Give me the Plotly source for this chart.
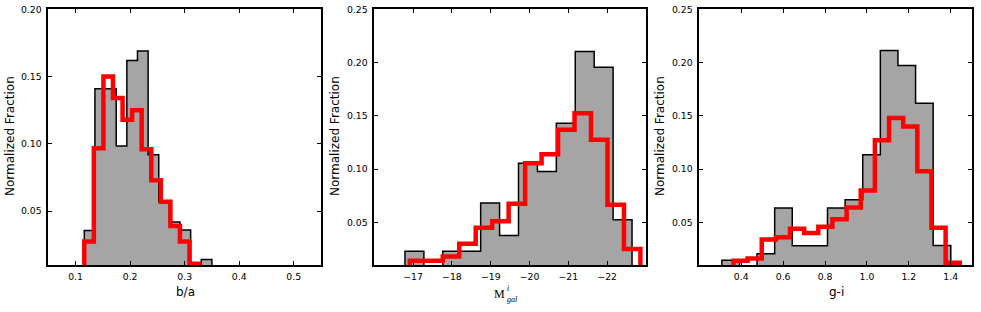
import plotly.graph_objects as go

# ---------------- data ----------------
# Panel 1: b/a
ba_gray_edges = [0.116, 0.1355, 0.155, 0.1745, 0.194, 0.2135, 0.233, 0.2525, 0.272, 0.2915, 0.311, 0.3305, 0.350]
ba_gray_vals = [0.0356, 0.141, 0.141, 0.0985, 0.162, 0.169, 0.092, 0.057, 0.042, 0.036, 0.0, 0.014]
ba_red_edges = [0.116, 0.1335, 0.1511, 0.1686, 0.1862, 0.2037, 0.2212, 0.2388, 0.2563, 0.2739, 0.2914, 0.3089, 0.3265]
ba_red_vals = [0.0275, 0.0968, 0.150, 0.134, 0.118, 0.125, 0.096, 0.073, 0.057, 0.039, 0.0275, 0.011]

# Panel 2: M^i_gal
mag_gray_edges = [-16.79, -17.2775, -17.765, -18.2525, -18.74, -19.2275, -19.715, -20.2025, -20.69, -21.1775, -21.665, -22.1525, -22.64]
mag_gray_vals = [0.0228, 0.0, 0.0228, 0.0228, 0.0681, 0.0378, 0.1056, 0.0978, 0.143, 0.2103, 0.1956, 0.0525]
mag_red_edges = [-16.915, -17.339, -17.764, -18.188, -18.613, -19.037, -19.461, -19.886, -20.310, -20.735, -21.159, -21.583, -22.008, -22.432, -22.856]
mag_red_vals = [0.014, 0.014, 0.018, 0.030, 0.045, 0.051, 0.0675, 0.1056, 0.114, 0.137, 0.1525, 0.1275, 0.0666, 0.025]

# Panel 3: g-i
gi_gray_edges = [0.3075, 0.3916, 0.4756, 0.5597, 0.6437, 0.7278, 0.8118, 0.8959, 0.9799, 1.064, 1.148, 1.2321, 1.3161, 1.4002]
gi_gray_vals = [0.0144, 0.0, 0.0206, 0.0634, 0.0281, 0.0281, 0.0634, 0.0712, 0.1134, 0.2113, 0.1972, 0.1619, 0.0284]
gi_red_edges = [0.363, 0.4305, 0.498, 0.5655, 0.633, 0.7005, 0.768, 0.8355, 0.903, 0.9705, 1.038, 1.1055, 1.173, 1.2405, 1.308, 1.3755, 1.443]
gi_red_vals = [0.014, 0.016, 0.034, 0.036, 0.044, 0.040, 0.046, 0.053, 0.064, 0.080, 0.127, 0.148, 0.140, 0.098, 0.045, 0.012]

ba_ticks = [0.1, 0.2, 0.3, 0.4, 0.5]
mag_ticks = [-17, -18, -19, -20, -21, -22]
mag_ticktext = ["\u221217", "\u221218", "\u221219", "\u221220", "\u221221", "\u221222"]
gi_ticks = [0.4, 0.6, 0.8, 1.0, 1.2, 1.4]
y1_ticks = [0.05, 0.10, 0.15, 0.20]
y23_ticks = [0.05, 0.10, 0.15, 0.20, 0.25]

# ---------------- helpers ----------------
W, H = 981, 312


def step_xy(edges, vals):
    xs = [edges[0]]
    ys = [0.0]
    for i, v in enumerate(vals):
        xs += [edges[i], edges[i + 1]]
        ys += [v, v]
    xs.append(edges[-1])
    ys.append(0.0)
    return xs, ys


GRAY = "#a5a5a5"
RED = "#ff0000"
FONT = "DejaVu Sans"

fig = go.Figure()

panels = [
    ("x", "y", ba_gray_edges, ba_gray_vals, ba_red_edges, ba_red_vals),
    ("x2", "y2", mag_gray_edges, mag_gray_vals, mag_red_edges, mag_red_vals),
    ("x3", "y3", gi_gray_edges, gi_gray_vals, gi_red_edges, gi_red_vals),
]
for xa, ya, ge, gv, re_, rv in panels:
    gx, gy = step_xy(ge, gv)
    fig.add_trace(go.Scatter(x=gx, y=gy, xaxis=xa, yaxis=ya, mode="lines",
                             fill="toself", fillcolor=GRAY,
                             line=dict(color="black", width=1.5),
                             hoverinfo="skip", showlegend=False))
    rx, ry = step_xy(re_, rv)
    fig.add_trace(go.Scatter(x=rx, y=ry, xaxis=xa, yaxis=ya, mode="lines",
                             line=dict(color=RED, width=4.5),
                             hoverinfo="skip", showlegend=False))


def xd(a, b):
    return [a / W, b / W]


ydom = [1 - 265 / H, 1 - 9.3 / H]

common_axis = dict(showline=True, linecolor="black", linewidth=1.6, mirror="allticks",
                   ticks="inside", ticklen=4, tickwidth=1, tickcolor="black",
                   showgrid=False, zeroline=False,
                   tickfont=dict(family=FONT, size=9.3, color="black"))

fig.update_layout(
    width=W, height=H,
    margin=dict(l=0, r=0, t=0, b=0),
    paper_bgcolor="white", plot_bgcolor="white",
    template="none",
    xaxis=dict(domain=xd(48.3, 321), range=[0.05, 0.55], anchor="y",
               tickvals=ba_ticks, tickformat=".1f", ticklabelstandoff=2, **common_axis),
    yaxis=dict(domain=ydom, range=[0.01, 0.20], anchor="x",
               tickvals=y1_ticks, tickformat=".2f", ticklabelstandoff=3, **common_axis),
    xaxis2=dict(domain=xd(374.3, 646), range=[-16, -23], anchor="y2",
                tickvals=mag_ticks, ticktext=mag_ticktext, ticklabelstandoff=2, **common_axis),
    yaxis2=dict(domain=ydom, range=[0.01, 0.25], anchor="x2",
                tickvals=y23_ticks, tickformat=".2f", ticklabelstandoff=3, **common_axis),
    xaxis3=dict(domain=xd(699.3, 971.7), range=[0.2, 1.5], anchor="y3",
                tickvals=gi_ticks, tickformat=".1f", ticklabelstandoff=2, **common_axis),
    yaxis3=dict(domain=ydom, range=[0.01, 0.25], anchor="x3",
                tickvals=y23_ticks, tickformat=".2f", ticklabelstandoff=3, **common_axis),
)


def px_x(p):
    return p / W


def px_y(p):
    return 1 - p / H


ann = []
title_font = dict(family=FONT, size=12, color="black")
for xc in (10, 335, 660):
    ann.append(dict(text="Normalized Fraction", x=px_x(xc), y=px_y(136), xref="paper", yref="paper",
                    textangle=-90, showarrow=False, xanchor="center", yanchor="middle", font=title_font))
ann.append(dict(text="b/a", x=px_x(185.5), y=px_y(292), xref="paper", yref="paper",
                showarrow=False, xanchor="center", yanchor="middle", font=title_font))
ann.append(dict(text="g-i", x=px_x(836), y=px_y(292), xref="paper", yref="paper",
                showarrow=False, xanchor="center", yanchor="middle", font=title_font))
serif = "Liberation Serif"
ann.append(dict(text="M", x=px_x(506), y=px_y(293.5), xref="paper", yref="paper",
                showarrow=False, xanchor="right", yanchor="middle", borderpad=0,
                font=dict(family=serif, size=12, color="black")))
ann.append(dict(text="<i>i</i>", x=px_x(506), y=px_y(288.5), xref="paper", yref="paper",
                showarrow=False, xanchor="left", yanchor="middle", borderpad=0,
                font=dict(family=serif, size=8, color="black")))
ann.append(dict(text="<i>gal</i>", x=px_x(506), y=px_y(299.5), xref="paper", yref="paper",
                showarrow=False, xanchor="left", yanchor="middle", borderpad=0,
                font=dict(family=serif, size=8, color="black")))
fig.update_layout(annotations=ann)

fig.write_html("out.html", config={"displayModeBar": False},
               post_script="document.body.style.margin='0px';")
